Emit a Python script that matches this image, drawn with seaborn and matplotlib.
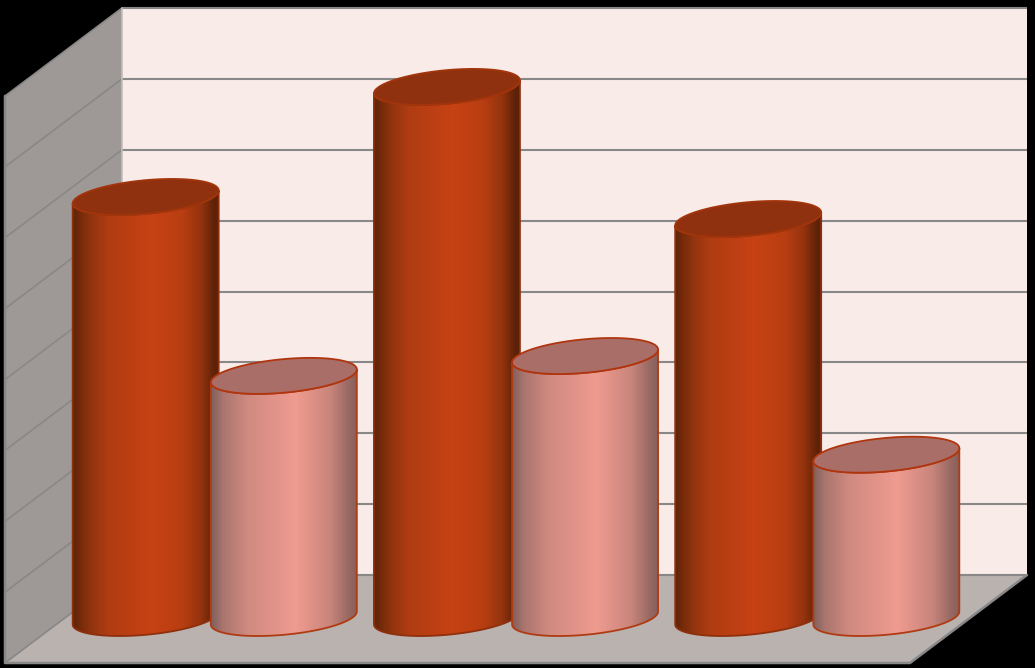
import numpy as np
import pandas as pd
import matplotlib
matplotlib.use('Agg')
import matplotlib.pyplot as plt
from matplotlib.colors import LinearSegmentedColormap
from matplotlib.patches import Polygon, PathPatch
from matplotlib.path import Path
import seaborn as sns

# Valores
categorias = ['Grupo 1', 'Grupo 2', 'Grupo 3']
serie_1 = [5.93, 7.48, 5.62]
serie_2 = [3.41, 3.69, 2.30]
ticks_y = [0, 1, 2, 3, 4, 5, 6, 7, 8]

df = pd.DataFrame({
    'categoria': categorias * 2,
    'valor': serie_1 + serie_2,
    'serie': ['Serie 1'] * 3 + ['Serie 2'] * 3,
})

# Escala: pixeles por unidad en cada eje
PX_X = 301.25
PX_Y = 71.0
X0_PX = 214.75   # centro del primer grupo
Y0_PX = 618.0    # base de los cilindros

sns.set_theme(style='white')
fig = plt.figure(figsize=(10.35, 6.68), dpi=100, facecolor='black')
ax = fig.add_axes([0, 0, 1, 1])

sns.barplot(data=df, x='categoria', y='valor', hue='serie', order=categorias,
            palette=['#c5421a', '#ef9b90'], width=0.917, legend=False, ax=ax)

# los cilindros se pintan de izquierda a derecha para que solapen bien
barras = sorted(ax.patches, key=lambda p: p.get_x())


def dx(px):
    return (px - X0_PX) / PX_X


def dy(py):
    return (Y0_PX - py) / PX_Y


ax.set_axis_off()

# Paredes y suelo
BL, BR, BT, BB = 122, 1027, 8, 575    # pared del fondo
FL, FB, FR = 5, 663, 910              # esquinas delanteras
ax.add_patch(Polygon([(dx(BL), dy(BT)), (dx(BR), dy(BT)), (dx(BR), dy(BB)), (dx(BL), dy(BB))],
                     fc='#f8ebe8', ec='none', zorder=0.1))
ax.add_patch(Polygon([(dx(BL), dy(BT)), (dx(BL), dy(BB)), (dx(FL), dy(FB)), (dx(FL), dy(BT + FB - BB))],
                     fc='#9e9896', ec='none', zorder=0.1))
ax.add_patch(Polygon([(dx(BL), dy(BB)), (dx(BR), dy(BB)), (dx(FR), dy(FB)), (dx(FL), dy(FB))],
                     fc='#b9b2af', ec='none', zorder=0.1))

# Lineas de la cuadricula, sobre la pared del fondo y la lateral
GRIS = '#888888'
for t in ticks_y:
    y_back = dy(BB) + t * (BB - BT) / 8 / PX_Y
    y_front = y_back - (FB - BB) / PX_Y
    ax.plot([dx(BL), dx(BR)], [y_back, y_back], color=GRIS, lw=1.5, zorder=0.2, solid_capstyle='butt')
    ax.plot([dx(FL), dx(BL)], [y_front, y_back], color=GRIS, lw=1.2, zorder=0.2)

# Bordes del marco
ax.plot([dx(FL), dx(FL), dx(FR), dx(BR)], [dy(BT + FB - BB), dy(FB), dy(FB), dy(BB)],
        color=GRIS, lw=1.8, zorder=0.2)
ax.plot([dx(BL), dx(BL)], [dy(BT), dy(BB)], color='#c4bdbb', lw=1.2, zorder=0.2)

cmap_roja = LinearSegmentedColormap.from_list('roja', [
    (0, '#5e2408'), (0.06, '#7a2c0b'), (0.13, '#93350f'), (0.24, '#b03c12'), (0.54, '#c74214'),
    (0.75, '#b83e12'), (0.88, '#93330e'), (0.97, '#5e2208'), (1, '#5a2008')])
cmap_rosa = LinearSegmentedColormap.from_list('rosa', [
    (0, '#7f5f5c'), (0.08, '#aa756e'), (0.25, '#d08a80'), (0.58, '#ef9b90'),
    (0.82, '#c8857b'), (0.94, '#9a6a64'), (1, '#85605c')])

SEMI_A = 73.0   # semiejes de la elipse en pixeles
SEMI_B = 16.8
INCL = 0.089    # inclinacion de la elipse

t_top = np.linspace(0, 2 * np.pi, 121)
t_front = np.linspace(np.pi, 2 * np.pi, 61)


def elipse(centro, base, t):
    x_px = SEMI_A * np.cos(t)
    y_px = INCL * x_px + SEMI_B * np.sin(t)
    return centro + x_px / PX_X, base + y_px / PX_Y


for i, bar in enumerate(barras):
    centro = bar.get_x() + bar.get_width() / 2
    alto = bar.get_height()
    rosa = i % 2 == 1
    bar.set_alpha(0)

    z = 2 + i
    borde = '#b03a12' if rosa else '#8f2f0b'
    tapa = '#a96e67' if rosa else '#8f300e'
    tapa_borde = '#b0350f' if rosa else '#a3350c'

    # cuerpo: frente inferior, lado der., frente superior y lado izq.
    xb, yb = elipse(centro, 0, t_front)
    xt, yt = elipse(centro, alto, t_front[::-1])
    vx = np.r_[xb, xt, xb[0]]
    vy = np.r_[yb, yt, yb[0]]
    clip = PathPatch(Path(np.c_[vx, vy]), fc='none', ec=borde, lw=1.3, zorder=z + 0.2)
    ax.add_patch(clip)

    img = ax.imshow(np.linspace(0, 1, 256).reshape(1, -1),
                    extent=(vx.min(), vx.max(), vy.min(), vy.max()),
                    cmap=cmap_rosa if rosa else cmap_roja,
                    aspect='auto', origin='lower', interpolation='bilinear', zorder=z)
    img.set_clip_path(clip)

    xc, yc = elipse(centro, alto, t_top)
    ax.add_patch(Polygon(np.c_[xc, yc], closed=True, fc=tapa, ec=tapa_borde, lw=1.3, zorder=z + 0.3))

ax.set_xlim(dx(0), dx(1035))
ax.set_ylim(dy(668), dy(0))

fig.savefig('out.png', dpi=100, facecolor='black')
